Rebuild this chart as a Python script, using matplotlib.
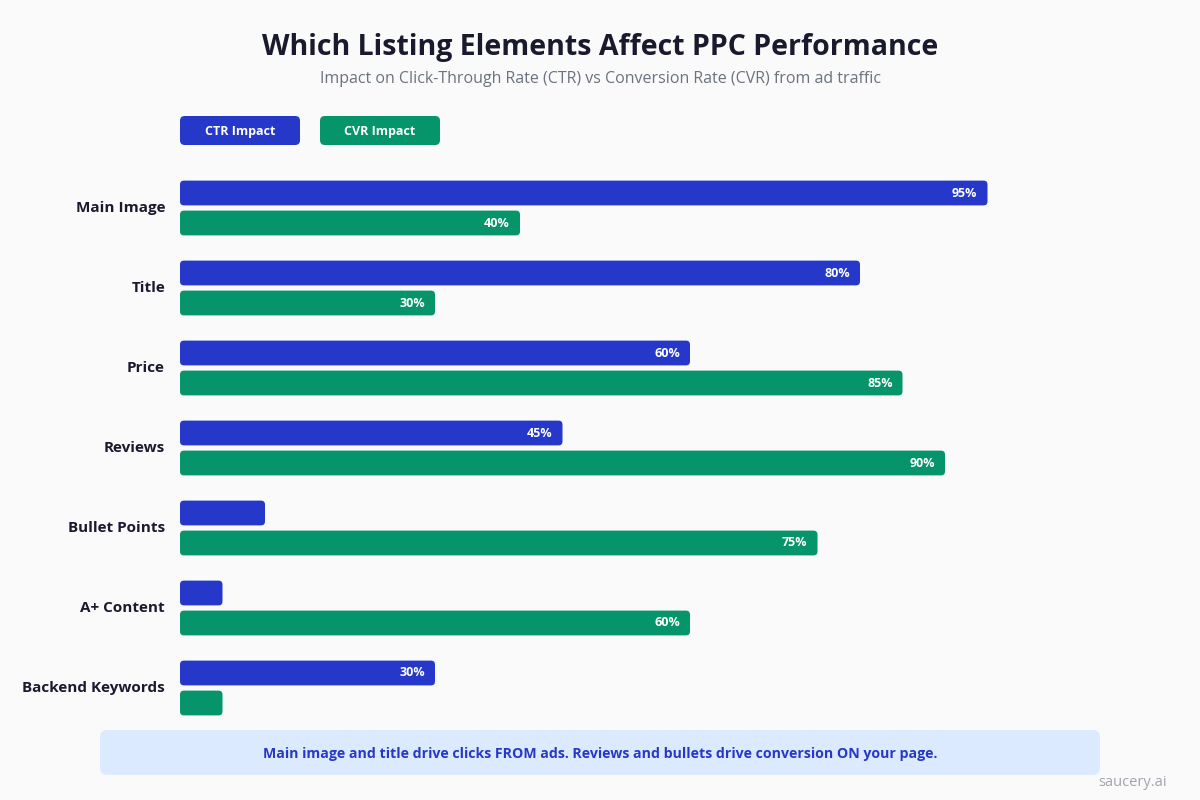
import matplotlib.pyplot as plt
from matplotlib.patches import FancyBboxPatch

plt.rcParams['font.family'] = ['Open Sans', 'DejaVu Sans']

# data
categories = ['Main Image', 'Title', 'Price', 'Reviews', 'Bullet Points', 'A+ Content', 'Backend Keywords']
ctr_impact = [95, 80, 60, 45, 10, 5, 30]
cvr_impact = [40, 30, 85, 90, 75, 60, 5]
series_names = ['CTR Impact', 'CVR Impact']

BLUE = '#2638C9'
GREEN = '#06956A'
BG = '#FAFAFA'
DARK = '#1A1A2E'

fig = plt.figure(figsize=(12, 8), dpi=100, facecolor=BG)

# bar axes: 0% at x=180px, 100% at x=1030px; rows 80px apart
ax = fig.add_axes([180 / 1200, 1 - 728 / 800, 850 / 1200, 560 / 800])
ax.set_facecolor(BG)
ax.set_xlim(0, 100)
ax.set_ylim(6.5, -0.5)
ax.axis('off')

bar_h = 0.31
offsets = [-0.1875, 0.1875]
px_x = 100 / 850   # data units per pixel (x)
px_y = 7 / 560     # data units per pixel (y)
radius = 4 * px_x
aspect = px_y / px_x

for i, cat in enumerate(categories):
    for vals, off, col in [(ctr_impact, offsets[0], BLUE), (cvr_impact, offsets[1], GREEN)]:
        v = vals[i]
        y0 = i + off - bar_h / 2
        ax.add_patch(FancyBboxPatch((0, y0), v, bar_h,
                                    boxstyle=f'round,pad=0,rounding_size={radius}',
                                    mutation_aspect=aspect, fc=col, ec='none'))
        if v >= 15:
            ax.text(v - 10 * px_x, i + off, f'{v}%', ha='right', va='center',
                    color='white', fontsize=9, fontweight='bold')
    ax.text(-15 * px_x, i, cat, ha='right', va='center', color=DARK,
            fontsize=11, fontweight='bold', clip_on=False)

# title and subtitle
fig.text(0.5, 1 - 48 / 800, 'Which Listing Elements Affect PPC Performance',
         ha='center', va='center', fontsize=20.5, fontweight='bold', color=DARK)
fig.text(0.5, 1 - 79 / 800,
         'Impact on Click-Through Rate (CTR) vs Conversion Rate (CVR) from ad traffic',
         ha='center', va='center', fontsize=11.5, color='#6B7280')

# legend chips
for k, (name, col) in enumerate(zip(series_names, [BLUE, GREEN])):
    x0 = 180 + k * 140
    fig.patches.append(FancyBboxPatch((x0 / 1200, 1 - 145 / 800), 120 / 1200, 29 / 800,
                                      boxstyle='round,pad=0,rounding_size=0.004',
                                      mutation_aspect=1.5, fc=col, ec='none',
                                      transform=fig.transFigure))
    fig.text((x0 + 60) / 1200, 1 - 131 / 800, name, ha='center', va='center',
             color='white', fontsize=9, fontweight='bold')

# insight box
fig.patches.append(FancyBboxPatch((100 / 1200, 1 - 775 / 800), 1000 / 1200, 45 / 800,
                                  boxstyle='round,pad=0,rounding_size=0.006',
                                  mutation_aspect=1.5, fc='#DBEAFE', ec='none',
                                  transform=fig.transFigure))
fig.text(0.5, 1 - 754 / 800,
         'Main image and title drive clicks FROM ads. Reviews and bullets drive conversion ON your page.',
         ha='center', va='center', color='#2638C9', fontsize=10.2, fontweight='bold')

fig.text(1167 / 1200, 1 - 783 / 800, 'saucery.ai', ha='right', va='center',
         color='#A0A4AC', fontsize=10.5)

fig.savefig('out.png', dpi=100, facecolor=BG)
